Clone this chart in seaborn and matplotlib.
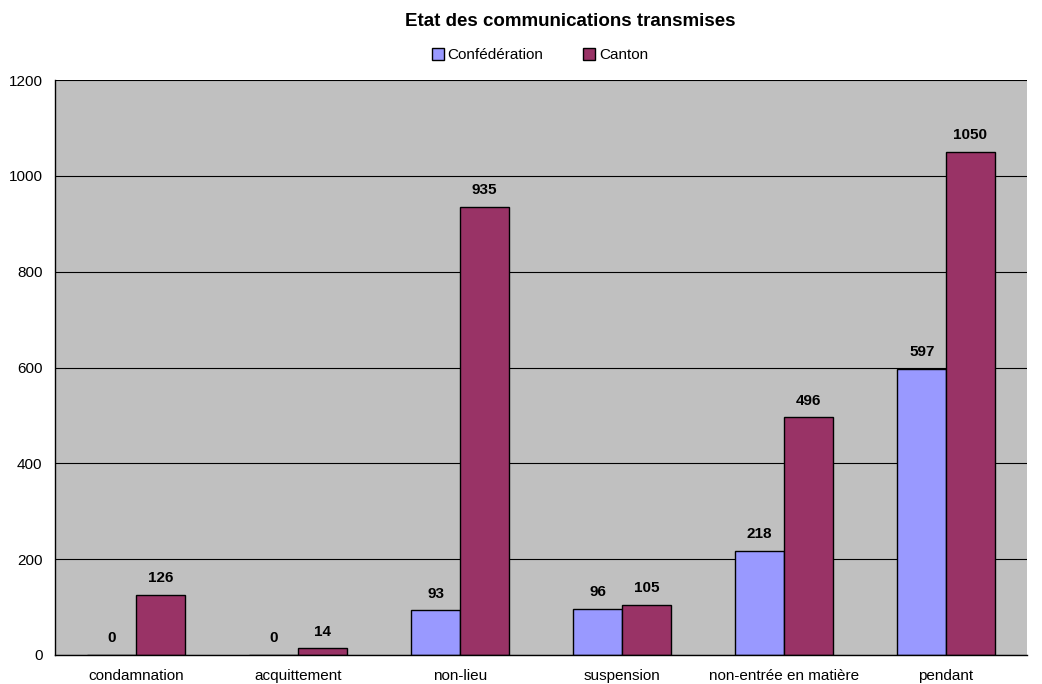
import matplotlib
matplotlib.use("Agg")
import matplotlib.pyplot as plt
import seaborn as sns
import pandas as pd
import numpy as np

categories = ["condamnation", "acquittement", "non-lieu", "suspension",
              "non-entrée en matière", "pendant"]
confederation = [0, 0, 93, 96, 218, 597]
canton = [126, 14, 935, 105, 496, 1050]
series_names = ["Confédération", "Canton"]
colors = ["#9999FF", "#993366"]

df = pd.DataFrame({
    "cat": categories * 2,
    "val": confederation + canton,
    "serie": [series_names[0]] * len(categories) + [series_names[1]] * len(categories),
})

sns.set_style("white")
plt.rcParams["font.family"] = ["Liberation Sans", "DejaVu Sans"]
plt.rcParams["text.color"] = "black"
plt.rcParams["xtick.color"] = "black"
plt.rcParams["ytick.color"] = "black"

fig = plt.figure(figsize=(10.42, 6.84), dpi=100)
ax = fig.add_axes([55 / 1042, 1 - 655 / 684, 972 / 1042, 575 / 684])
ax.set_facecolor("#C0C0C0")

sns.barplot(data=df, x="cat", y="val", hue="serie", order=categories,
            hue_order=series_names, palette=colors, width=0.6,
            edgecolor="black", linewidth=1.0, saturation=1, ax=ax, legend=True)

ax.set_xlim(-0.5, len(categories) - 0.5)
ax.set_ylim(0, 1200)
ax.set_yticks(range(0, 1201, 200))
ax.yaxis.grid(True, color="black", linewidth=0.8)
ax.set_axisbelow(True)

for cont in ax.containers:
    labels = [f"{int(v.get_height())}" for v in cont]
    ax.bar_label(cont, labels=labels, padding=7, fontsize=11, fontweight="bold",
                 color="black")

ax.set_xlabel("")
ax.set_ylabel("")
ax.set_xticks(range(len(categories)))
ax.set_xticklabels(categories, fontsize=11)
ax.set_xticks(np.arange(-0.5, len(categories), 1), minor=True)
ax.tick_params(axis="x", which="major", length=0, pad=10)
ax.tick_params(axis="x", which="minor", length=5, width=0.8, color="black", direction="out")
ax.tick_params(axis="y", length=5, width=0.8, color="black", direction="out", labelsize=11, pad=4)

for s in ["top", "right"]:
    ax.spines[s].set_visible(False)
for s in ["left", "bottom"]:
    ax.spines[s].set_color("black")
    ax.spines[s].set_linewidth(1.0)

fig.suptitle("Etat des communications transmises", fontsize=13.5, fontweight="bold",
             x=570 / 1042, y=1 - 22 / 684, va="center", color="black")
leg = ax.legend(loc="center", bbox_to_anchor=((540 - 55) / 972, (655 - 55) / 575),
                ncol=2, frameon=False, fontsize=11, handlelength=0.8, handleheight=0.8,
                handletextpad=0.25, columnspacing=2.6, borderaxespad=0)

fig.savefig("out.png", dpi=100)
